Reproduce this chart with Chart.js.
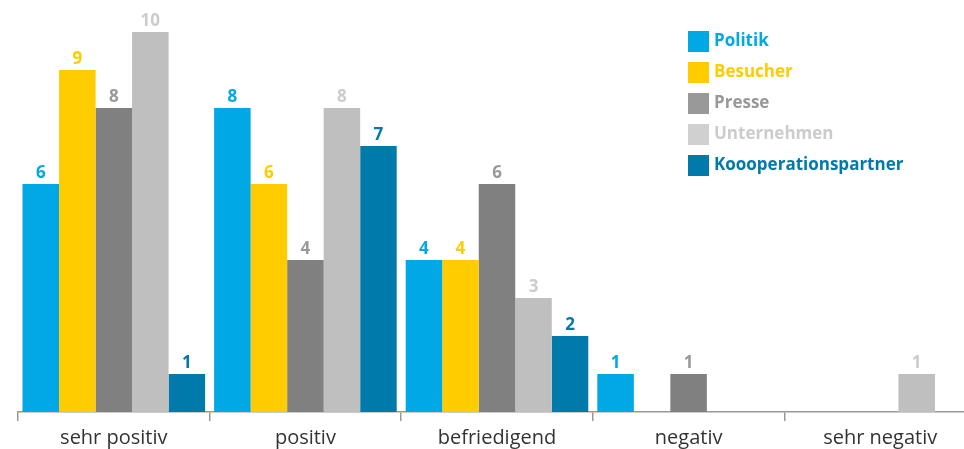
<!DOCTYPE html>
<html>
<head>
<meta charset="utf-8">
<script src="https://cdn.jsdelivr.net/npm/chart.js@4/dist/chart.umd.min.js"></script>
<style>
  html, body { margin: 0; padding: 0; background: #fff; overflow: hidden; }
  #wrap { width: 976px; height: 449px; position: relative; }
</style>
</head>
<body>
<div id="wrap"><canvas id="c"></canvas></div>
<script>
// Bewertung nach Gruppen
const categories = ['sehr positiv', 'positiv', 'befriedigend', 'negativ', 'sehr negativ'];
const seriesNames = ['Politik', 'Besucher', 'Presse', 'Unternehmen', 'Koooperationspartner'];
const politik      = [6, 8, 4, 1, 0];
const besucher     = [9, 6, 4, 0, 0];
const presse       = [8, 4, 6, 1, 0];
const unternehmen  = [10, 8, 3, 0, 1];
const kooperation  = [1, 7, 2, 0, 0];
const yTicks = [0, 10];

const barColors   = ['#00a8e6', '#ffcc00', '#808080', '#bfbfbf', '#007aab'];
const textColors  = ['#00a8e6', '#ffcc00', '#999999', '#cccccc', '#007aab'];
const swatchColors = ['#00a8e6', '#ffcc00', '#999999', '#d0d0d0', '#007aab'];
const seriesValues = [politik, besucher, presse, unternehmen, kooperation];

const FONT = '"Open Sans", Roboto, sans-serif';

// Wertbeschriftungen über den Balken
const valueLabels = {
  id: 'valueLabels',
  afterDatasetsDraw(chart) {
    const ctx = chart.ctx;
    ctx.save();
    ctx.font = 'bold 17px ' + FONT;
    ctx.textAlign = 'center';
    ctx.textBaseline = 'alphabetic';
    chart.data.datasets.forEach((ds, i) => {
      const meta = chart.getDatasetMeta(i);
      meta.data.forEach((bar, j) => {
        const v = ds.data[j];
        if (!v) return;
        ctx.fillStyle = textColors[i];
        ctx.fillText(String(v), bar.x, bar.y - 6);
      });
    });
    ctx.restore();
  }
};

// Legende oben rechts
const cornerLegend = {
  id: 'cornerLegend',
  afterDraw(chart) {
    const ctx = chart.ctx;
    ctx.save();
    ctx.font = 'bold 17px ' + FONT;
    ctx.textAlign = 'left';
    ctx.textBaseline = 'alphabetic';
    seriesNames.forEach((name, i) => {
      const y = 31 + i * 31;
      ctx.fillStyle = swatchColors[i];
      ctx.fillRect(688, y, 21, 21);
      ctx.fillStyle = textColors[i];
      ctx.fillText(name, 714, y + 15);
    });
    ctx.restore();
  }
};

new Chart(document.getElementById('c'), {
  type: 'bar',
  data: {
    labels: categories,
    datasets: seriesNames.map((name, i) => ({
      label: name,
      data: seriesValues[i],
      backgroundColor: barColors[i],
      borderWidth: 0,
      categoryPercentage: 0.953,
      barPercentage: 1.0
    }))
  },
  options: {
    responsive: true,
    maintainAspectRatio: false,
    animation: false,
    layout: { padding: { left: 18, top: 32, right: 0, bottom: 0 } },
    plugins: { legend: { display: false }, tooltip: { enabled: false } },
    scales: {
      x: {
        offset: true,
        grid: {
          offset: true,
          drawOnChartArea: false,
          drawTicks: true,
          tickLength: 9,
          color: '#999999',
          lineWidth: 1.5
        },
        border: { display: true, color: '#999999', width: 1.5 },
        ticks: {
          color: '#333333',
          font: { family: FONT, size: 20 },
          padding: 5
        },
        afterFit(scale) { scale.height = 37; }
      },
      y: {
        display: false,
        min: yTicks[0],
        max: yTicks[yTicks.length - 1]
      }
    }
  },
  plugins: [valueLabels, cornerLegend]
});
</script>
</body>
</html>
